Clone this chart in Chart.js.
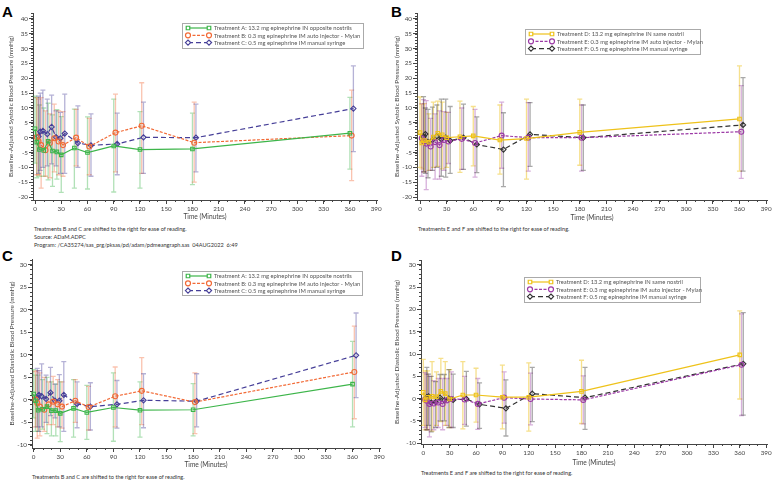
<!DOCTYPE html>
<html>
<head>
<meta charset="utf-8">
<script src="https://cdn.jsdelivr.net/npm/chart.js@4.4.1/dist/chart.umd.min.js"></script>
<style>
  body { margin:0; background:#fff; width:777px; height:484px; position:relative; overflow:hidden; font-family: Lato, "Open Sans", sans-serif; }
  canvas { position:absolute; }
  .lbl { position:absolute; font: bold 15px "Liberation Sans", Arial, sans-serif; color:#000; }
  .note { position:absolute; font-size:5.6px; color:#333; white-space:nowrap; line-height:8px; }
</style>
</head>
<body>
<div class="lbl" style="left:2px;top:3px">A</div>
<div class="lbl" style="left:391px;top:3px">B</div>
<div class="lbl" style="left:2px;top:247px">C</div>
<div class="lbl" style="left:391px;top:247px">D</div>

<canvas id="cA" width="388" height="222" style="left:0;top:0"></canvas>
<canvas id="cB" width="387" height="222" style="left:390px;top:0"></canvas>
<canvas id="cC" width="388" height="220" style="left:0;top:250px"></canvas>
<canvas id="cD" width="387" height="217" style="left:390px;top:250px"></canvas>

<div class="note" style="left:34px;top:225px">Treatments B and C are shifted to the right for ease of reading.</div>
<div class="note" style="left:34px;top:233px">Source: ADaM.ADPC</div>
<div class="note" style="left:34px;top:241px">Program: /CA35274/sas_prg/pksas/pd/adam/pdmeangraph.sas&nbsp;&nbsp;04AUG2022&nbsp;&nbsp;6:49</div>
<div class="note" style="left:418px;top:225px">Treatments E and F are shifted to the right for ease of reading.</div>
<div class="note" style="left:32px;top:473px">Treatments B and C are shifted to the right for ease of reading.</div>
<div class="note" style="left:421px;top:469px">Treatments E and F are shifted to the right for ease of reading.</div>

<script>
// nominal time points (minutes); B/E and C/F are plotted shifted right
const timePoints = [0, 2, 5, 10, 15, 20, 25, 30, 45, 60, 90, 120, 180, 360];
const shiftMid = 2;
const shiftLate = 4;

const xTickLabels = [0, 30, 60, 90, 120, 150, 180, 210, 240, 270, 300, 330, 360, 390];
const sbpTickLabels = [-20, -15, -10, -5, 0, 5, 10, 15, 20, 25, 30, 35, 40];
const dbpTickLabels = [-10, -5, 0, 5, 10, 15, 20, 25, 30];

const legendAC = [
  'Treatment A: 13.2 mg epinephrine IN opposite nostrils',
  'Treatment B: 0.3 mg epinephrine IM auto injector - Mylan',
  'Treatment C: 0.5 mg epinephrine IM manual syringe'
];
const legendDF = [
  'Treatment D: 13.2 mg epinephrine IN same nostril',
  'Treatment E: 0.3 mg epinephrine IM auto injector - Mylan',
  'Treatment F: 0.5 mg epinephrine IM manual syringe'
];

// systolic, mean with upper/lower error bar ends
const sbpA_mean = [3.0, -1.5, -4.0, -4.3, -1.2, -4.5, -4.8, -5.8, -3.5, -5.0, -2.8, -4.0, -3.8, 1.5];
const sbpA_hi   = [14, 13.5, 11, 10, 11.6, 7.7, 9.4, 7.1, 9.6, 7.0, 13, 8.8, 8.3, 13.6];
const sbpA_lo   = [-8.6, -13.5, -13, -13, -14.2, -16.4, -14, -18.4, -17, -17.3, -18.3, -17, -15.8, -10.6];
const sbpB_mean = [0.2, -1.2, -2.5, -4.2, -1.8, -0.2, -1.3, -2.5, 0.0, -3.0, 1.7, 4.0, -1.7, 0.7];
const sbpB_hi   = [13.5, 13, 13.5, 9, 8, 11.3, 9, 8.8, 9.5, 6.5, 14.7, 18.5, 12, 16];
const sbpB_lo   = [-12.5, -12.5, -17, -13, -13.5, -11.5, -12.5, -13, -9.5, -12.5, -11.5, -12, -15, -14.5];
const sbpC_mean = [0.4, 2.0, 2.3, 1.2, 3.6, 0.2, -0.2, 1.4, -1.8, -2.6, -2.1, 0.1, 0.0, 9.8];
const sbpC_hi   = [14, 15, 16, 13, 14.3, 9, 8.5, 14.7, 10.7, 8.0, 8.3, 12, 11.3, 24.2];
const sbpC_lo   = [-12, -11, -10, -9.5, -8.8, -9.5, -12, -12, -10, -13, -12.5, -12, -11.5, -4.7];

const sbpD_mean = [1.7, -1.8, -1.0, -1.5, 0.2, 1.5, 1.0, 0.0, 0.3, 0.6, -0.8, -0.3, 1.8, 6.3];
const sbpD_hi   = [13.7, 11.3, 11.5, 8, 12, 12.3, 12, 8.5, 12.3, 10.5, 11, 13, 13, 24.2];
const sbpD_lo   = [-10, -10.5, -11.5, -11, -10, -9.7, -10.5, -10, -11.7, -9.5, -12.3, -14, -9.3, -11.3];
const sbpE_mean = [-0.2, -1.2, -2.0, -3.0, -1.5, -2.5, -0.8, -1.3, -0.4, -1.8, 0.7, 0.0, 0.0, 2.0];
const sbpE_hi   = [11.5, 12.8, 12.5, 6.5, 8, 9, 8.8, 8.5, 10, 9.5, 12, 11.8, 11, 17.5];
const sbpE_lo   = [-13, -11.5, -17.5, -11, -14, -14, -11, -8.7, -10.7, -13.3, -10.3, -11.3, -11.3, -13.7];
const sbpF_mean = [0.3, 1.2, -1.5, -0.8, 0.5, -0.5, 0.0, -1.0, 0.0, -2.3, -4.0, 1.1, 0.0, 4.3];
const sbpF_hi   = [13.8, 10, 9.5, 10.3, 11, 13, 13, 10.5, 11.3, 7, 8.4, 11.8, 11, 20.2];
const sbpF_lo   = [-11.5, -12, -13.5, -11, -10, -13, -13.3, -12, -10.7, -11.8, -16.5, -9.7, -11, -11.3];

// diastolic
const dbpA_mean = [1.3, -0.2, -2.3, -2.1, -1.5, -2.4, -2.4, -3.0, -1.9, -2.8, -1.7, -2.3, -2.2, 3.5];
const dbpA_hi   = [6.7, 5.5, 5.5, 4.5, 5, 4, 3.5, 4, 4.5, 3.2, 6, 4, 3.6, 13];
const dbpA_lo   = [-4, -7, -7, -6.5, -7.5, -8, -8, -9.3, -8.3, -8.8, -9.2, -8.3, -8, -6];
const dbpB_mean = [0.1, -0.7, -1.5, -2.2, -1.0, -0.4, -1.0, -1.5, -0.2, -1.6, 0.8, 2.0, -0.5, 6.2];
const dbpB_hi   = [6.3, 6.5, 6, 5, 4, 5.2, 4.5, 4, 4.5, 3, 7.3, 9.4, 6, 16.4];
const dbpB_lo   = [-6, -8.5, -8, -7, -5.5, -5.5, -6, -6.3, -5, -6.7, -6, -5.5, -7.5, -4.2];
const dbpC_mean = [0.3, 1.1, 0.8, 0.2, 1.6, -0.2, -0.2, 1.1, -0.9, -1.5, -1.0, -0.1, -0.3, 9.9];
const dbpC_hi   = [7, 6.5, 8, 5.5, 7.2, 3.5, 5.6, 8.5, 4, 3.8, 4.3, 5.8, 5.8, 19.3];
const dbpC_lo   = [-6, -7, -6, -5, -3.5, -4, -6, -7, -6.2, -6.7, -6.3, -6.2, -6, 0.5];

const dbpD_mean = [1.4, -0.3, 0.3, 0.5, 0.4, 1.6, 1.1, -0.1, 0.8, 0.8, 0.3, 0.3, 1.6, 9.8];
const dbpD_hi   = [8.8, 6.2, 6.2, 8.3, 6, 9, 8.3, 6.5, 8.3, 6.8, 7.5, 8, 8.6, 19.7];
const dbpD_lo   = [-6, -7, -7, -7.3, -6, -5.2, -6, -6.5, -6.8, -5.3, -6.8, -7.3, -5.6, -0.1];
const dbpE_mean = [-0.2, -0.5, -1.2, -1.1, -0.9, -1.2, -0.4, -0.1, -0.2, -1.2, 0.2, -0.1, -0.3, 7.6];
const dbpE_hi   = [5.8, 5.5, 5, 4, 4.5, 4.5, 4.5, 6, 5, 4.5, 6, 5.7, 5.1, 19];
const dbpE_lo   = [-6.5, -7, -8.6, -7, -6.5, -7, -6, -6.5, -5.8, -6.9, -5.5, -5.9, -5.7, -3.8];
const dbpF_mean = [0.3, 0.5, -0.9, -0.8, 0.2, -0.4, 0.0, -0.3, -0.1, -1.3, -2.2, 1.1, 0.2, 7.8];
const dbpF_hi   = [7, 5.5, 5, 3.8, 5.4, 5.4, 6.5, 5.5, 6.1, 3.5, 4.2, 7, 7, 19.3];
const dbpF_lo   = [-7, -6, -7.5, -6.5, -5, -5, -6.5, -6.5, -6.2, -6.7, -8.4, -5.2, -6.9, -3.7];

const FONT = 'Lato, "Open Sans", sans-serif';

function pts(mean, hi, lo, shift) {
  return timePoints.map((t, i) => ({ x: t + shift, y: mean[i], hi: hi[i], lo: lo[i] }));
}

function series(label, data, color, errColor, style, dash, radius) {
  return {
    label, data,
    borderColor: color, backgroundColor: 'rgba(255,255,255,0)',
    borderWidth: 1.2, borderDash: dash,
    pointStyle: style, pointRadius: radius, pointBorderWidth: 1.1,
    pointBorderColor: color, pointBackgroundColor: 'rgba(255,255,255,0)',
    errColor, tension: 0, clip: false
  };
}

// error bars from hi/lo through the scales
const errorBars = {
  id: 'errorBars',
  beforeDatasetsDraw(chart) {
    const ctx = chart.ctx, xs = chart.scales.x, ys = chart.scales.y;
    chart.data.datasets.forEach(ds => {
      ctx.save();
      ctx.strokeStyle = ds.errColor;
      ctx.lineWidth = 1.3;
      ds.data.forEach(p => {
        const x = xs.getPixelForValue(p.x);
        const y1 = ys.getPixelForValue(p.hi), y2 = ys.getPixelForValue(p.lo);
        ctx.beginPath();
        ctx.moveTo(x, y1); ctx.lineTo(x, y2);
        ctx.moveTo(x - 2.5, y1); ctx.lineTo(x + 2.5, y1);
        ctx.moveTo(x - 2.5, y2); ctx.lineTo(x + 2.5, y2);
        ctx.stroke();
      });
      ctx.restore();
    });
  }
};

// minor ticks like the SAS axes
const minorTicks = {
  id: 'minorTicks',
  afterDraw(chart, args, opts) {
    const ctx = chart.ctx, xs = chart.scales.x, ys = chart.scales.y;
    ctx.save();
    ctx.strokeStyle = '#444';
    ctx.lineWidth = 1;
    ctx.beginPath();
    for (let v = Math.ceil(ys.min); v <= ys.max; v += opts.yStep) {
      const y = Math.round(ys.getPixelForValue(v)) + 0.5;
      ctx.moveTo(ys.right, y); ctx.lineTo(ys.right - 2, y);
    }
    for (let v = 0; v <= xs.max; v += opts.xStep) {
      const x = Math.round(xs.getPixelForValue(v)) + 0.5;
      ctx.moveTo(x, xs.top); ctx.lineTo(x, xs.top + 2);
    }
    ctx.stroke();
    ctx.restore();
  }
};

// boxed legend inside the plot, like SAS
const boxLegend = {
  id: 'boxLegend',
  afterDraw(chart, args, opts) {
    const ctx = chart.ctx;
    const { x, y, w, h } = opts;
    ctx.save();
    ctx.fillStyle = '#fff';
    ctx.fillRect(x, y, w, h);
    ctx.strokeStyle = '#aaa';
    ctx.lineWidth = 1;
    ctx.strokeRect(x + 0.5, y + 0.5, w, h);
    chart.data.datasets.forEach((ds, i) => {
      const ry = y + 5 + i * 7.3;
      ctx.strokeStyle = ds.borderColor;
      ctx.lineWidth = 1.2;
      ctx.setLineDash(ds.borderDash);
      ctx.beginPath();
      ctx.moveTo(x + 6, ry); ctx.lineTo(x + 27, ry);
      ctx.stroke();
      ctx.setLineDash([]);
      [x + 6, x + 27].forEach(px => {
        ctx.fillStyle = '#fff';
        ctx.strokeStyle = ds.borderColor;
        Chart.helpers.drawPoint(ctx, { pointStyle: ds.pointStyle, radius: ds.pointRadius, borderWidth: 1.1, rotation: 0 }, px, ry);
      });
      ctx.fillStyle = '#555';
      ctx.font = '5.8px ' + FONT;
      ctx.textBaseline = 'middle';
      ctx.fillText(ds.legendText, x + 32, ry + 0.5);
    });
    ctx.restore();
  }
};

function makePanel(id, cfg) {
  const canvas = document.getElementById(id);
  const W = canvas.width, H = canvas.height;
  cfg.datasets.forEach((ds, i) => { ds.legendText = cfg.legend[i]; });
  new Chart(canvas, {
    type: 'line',
    data: { datasets: cfg.datasets },
    plugins: [errorBars, minorTicks, boxLegend],
    options: {
      responsive: false,
      animation: false,
      devicePixelRatio: 1,
      layout: { padding: { left: 0, top: cfg.area.top, right: W - cfg.area.right, bottom: 0 } },
      plugins: {
        legend: { display: false },
        tooltip: { enabled: false },
        minorTicks: { yStep: 1, xStep: 10 },
        boxLegend: cfg.legendBox
      },
      scales: {
        x: {
          type: 'linear', min: cfg.xMin, max: 391,
          afterBuildTicks: s => { s.ticks = xTickLabels.map(v => ({ value: v })); },
          afterFit: s => { s.height = H - cfg.area.bottom; },
          grid: { drawOnChartArea: false, tickLength: 4, color: '#444' },
          border: { color: '#444', width: 1 },
          ticks: { font: { family: FONT, size: 6.3 }, color: '#444', padding: 1, maxRotation: 0, autoSkip: false },
          title: { display: true, text: 'Time (Minutes)', font: { family: FONT, size: 6.6 }, color: '#444', padding: { top: 0, bottom: cfg.xTitlePad } }
        },
        y: {
          min: cfg.yMin, max: cfg.yMax,
          afterBuildTicks: s => { s.ticks = cfg.yTicks.map(v => ({ value: v })); },
          afterFit: s => { s.width = cfg.area.left; },
          grid: { drawOnChartArea: false, tickLength: 4, color: '#444' },
          border: { color: '#444', width: 1 },
          ticks: { font: { family: FONT, size: 6.3 }, color: '#444', padding: 1 },
          title: { display: true, text: cfg.yTitle, font: { family: FONT, size: 6.4 }, color: '#444', padding: { top: cfg.yTitlePad, bottom: 0 } }
        }
      }
    }
  });
}

const green = '#3db54a', greenErr = 'rgba(61,181,74,0.4)';
const orange = '#f26a36', orangeErr = 'rgba(242,106,54,0.4)';
const navy = '#463f98', navyErr = 'rgba(70,63,152,0.4)';
const yellow = '#eec21a', yellowErr = 'rgba(238,194,26,0.5)';
const purple = '#9c3aa6', purpleErr = 'rgba(156,58,166,0.4)';
const black = '#333333', blackErr = 'rgba(40,40,40,0.4)';

makePanel('cA', {
  area: { left: 33, right: 377, top: 13, bottom: 200 },
  xMin: -2.3, yMin: -21, yMax: 42, yTicks: sbpTickLabels,
  yTitle: 'Baseline-Adjusted Systolic Blood Pressure (mmHg)', yTitlePad: 7, xTitlePad: 1,
  legend: legendAC, legendBox: { x: 182, y: 23, w: 181, h: 25 },
  datasets: [
    series('A', pts(sbpA_mean, sbpA_hi, sbpA_lo, 0), green, greenErr, 'rect', [], 2.5),
    series('B', pts(sbpB_mean, sbpB_hi, sbpB_lo, shiftMid), orange, orangeErr, 'circle', [3, 1.5], 2.5),
    series('C', pts(sbpC_mean, sbpC_hi, sbpC_lo, shiftLate), navy, navyErr, 'rectRot', [5, 3], 2.6)
  ]
});

makePanel('cB', {
  area: { left: 27, right: 377, top: 13, bottom: 200 },
  xMin: -3.4, yMin: -21, yMax: 42, yTicks: sbpTickLabels,
  yTitle: 'Baseline-Adjusted Systolic Blood Pressure (mmHg)', yTitlePad: 3, xTitlePad: 0,
  legend: legendDF, legendBox: { x: 135, y: 29, w: 175, h: 25 },
  datasets: [
    series('D', pts(sbpD_mean, sbpD_hi, sbpD_lo, 0), yellow, yellowErr, 'rect', [], 2.5),
    series('E', pts(sbpE_mean, sbpE_hi, sbpE_lo, shiftMid), purple, purpleErr, 'circle', [3, 1.5], 2.5),
    series('F', pts(sbpF_mean, sbpF_hi, sbpF_lo, shiftLate), black, blackErr, 'rectRot', [5, 3], 2.6)
  ]
});

makePanel('cC', {
  area: { left: 32, right: 380, top: 9, bottom: 198 },
  xMin: -1.9, yMin: -10.7, yMax: 31.3, yTicks: dbpTickLabels,
  yTitle: 'Baseline-Adjusted Diastolic Blood Pressure (mmHg)', yTitlePad: 8, xTitlePad: 1,
  legend: legendAC, legendBox: { x: 182, y: 21, w: 180, h: 24 },
  datasets: [
    series('A', pts(dbpA_mean, dbpA_hi, dbpA_lo, 0), green, greenErr, 'rect', [], 2.5),
    series('B', pts(dbpB_mean, dbpB_hi, dbpB_lo, shiftMid), orange, orangeErr, 'circle', [3, 1.5], 2.5),
    series('C', pts(dbpC_mean, dbpC_hi, dbpC_lo, shiftLate), navy, navyErr, 'rectRot', [5, 3], 2.6)
  ]
});

makePanel('cD', {
  area: { left: 31, right: 377, top: 10, bottom: 194 },
  xMin: -2.6, yMin: -10.2, yMax: 31.1, yTicks: dbpTickLabels,
  yTitle: 'Baseline-Adjusted Diastolic Blood Pressure (mmHg)', yTitlePad: 3, xTitlePad: 0,
  legend: legendDF, legendBox: { x: 134, y: 27, w: 176, h: 25 },
  datasets: [
    series('D', pts(dbpD_mean, dbpD_hi, dbpD_lo, 0), yellow, yellowErr, 'rect', [], 2.5),
    series('E', pts(dbpE_mean, dbpE_hi, dbpE_lo, shiftMid), purple, purpleErr, 'circle', [3, 1.5], 2.5),
    series('F', pts(dbpF_mean, dbpF_hi, dbpF_lo, shiftLate), black, blackErr, 'rectRot', [5, 3], 2.6)
  ]
});
</script>
</body>
</html>
